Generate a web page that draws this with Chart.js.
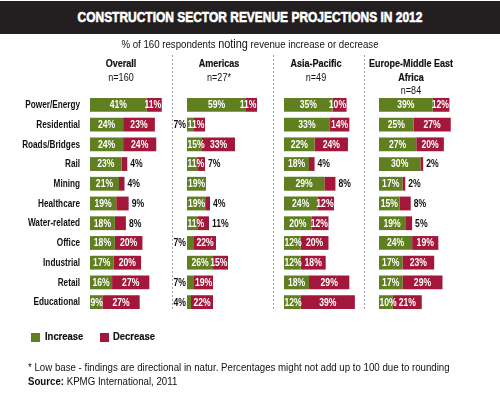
<!DOCTYPE html>
<html>
<head>
<meta charset="utf-8">
<script src="https://cdn.jsdelivr.net/npm/chart.js@4.4.0/dist/chart.umd.min.js"></script>
<style>
  body { margin: 0; background: #fff; }
  #wrap { position: relative; width: 500px; height: 400px; overflow: hidden;
          font-family: 'Liberation Sans', Arial, sans-serif; color: #111; }
  #chart { position: absolute; left: 0; top: 0; }
  .t { position: absolute; white-space: nowrap; }
  .nc { transform: scaleX(0.82); transform-origin: center top; }
  .nl { transform: scaleX(0.82); transform-origin: left top; }
  #titlebar { position: absolute; left: 0; top: 1px; width: 500px; height: 33px; background: #231f20; }
  #title { left: 0; width: 500px; top: 9px; text-align: center; color: #fff; font-weight: bold;
           font-size: 14.6px; -webkit-text-stroke: 0.6px #fff; }
  #sub { left: 0; width: 500px; top: 36px; text-align: center; font-size: 11.8px; }
  #sub span { font-size: 13.3px; }
  .hd { text-align: center; font-size: 11px; line-height: 13.5px; }
  .hd b { font-weight: bold; -webkit-text-stroke: 0.2px #111; }
  .leg { top: 330px; font-size: 11.5px; font-weight: bold; -webkit-text-stroke: 0.2px #111; }
  .sw { position: absolute; width: 9px; height: 9px; top: 333px; }
  #foot { left: 28px; top: 360px; font-size: 11.8px; line-height: 14px; }
</style>
</head>
<body>
<div id="wrap">
  <canvas id="chart" width="500" height="400"></canvas>
  <div id="titlebar"></div>
  <div class="t nc" id="title">CONSTRUCTION SECTOR REVENUE PROJECTIONS IN 2012</div>
  <div class="t nc" id="sub">% of 160 respondents <span>noting</span> revenue increase or decrease</div>
  <div class="t hd nc" style="left:71px;width:100px;top:57px"><b>Overall</b><br>n=160</div>
  <div class="t hd nc" style="left:169px;width:100px;top:57px"><b>Americas</b><br>n=27*</div>
  <div class="t hd nc" style="left:266px;width:100px;top:57px"><b>Asia-Pacific</b><br>n=49</div>
  <div class="t hd nc" style="left:351px;width:120px;top:57px"><b>Europe-Middle East<br>Africa</b><br>n=84</div>
  <div class="sw" style="left:31px;background:#5f7f20"></div>
  <div class="t leg nl" style="left:45px">Increase</div>
  <div class="sw" style="left:100px;background:#a3173a"></div>
  <div class="t leg nl" style="left:113px">Decrease</div>
  <div class="t nl" id="foot">* Low base - findings are directional in natur. Percentages might not add up to 100 due to rounding<br><b>Source:</b> KPMG International, 2011</div>
</div>
<script>
// --- DATA ---
const categories = ['Power/Energy', 'Residential', 'Roads/Bridges', 'Rail', 'Mining', 'Healthcare',
                    'Water-related', 'Office', 'Industrial', 'Retail', 'Educational'];
const overallInc  = [41, 24, 24, 23, 21, 19, 18, 18, 17, 16, 9];
const overallDec  = [11, 23, 24, 4, 4, 9, 8, 20, 20, 27, 27];
const americasInc = [59, 7, 15, 11, 19, 19, 11, 7, 26, 7, 4];
const americasDec = [11, 11, 33, 7, 0, 4, 11, 22, 15, 19, 22];
const asiaInc     = [35, 33, 22, 18, 29, 24, 20, 12, 12, 18, 12];
const asiaDec     = [10, 14, 24, 4, 8, 12, 12, 20, 18, 29, 39];
const emeaInc     = [39, 25, 27, 30, 17, 15, 19, 24, 17, 17, 10];
const emeaDec     = [12, 27, 20, 2, 2, 8, 5, 19, 23, 29, 21];

const GREEN = '#5f7f20';
const RED = '#a3173a';
const FONT = "'Liberation Sans', Arial, sans-serif";
const NARROW = 0.82; // squeeze Liberation Sans into an Arial Narrow look

// column layout: where each panel's bars start (px) and px per percent
const panels = [
    { id: 'x0', start: 90,  pxPer: 1.38, inc: overallInc,  dec: overallDec },
    { id: 'x1', start: 187, pxPer: 1.0,  inc: americasInc, dec: americasDec },
    { id: 'x2', start: 284, pxPer: 1.39, inc: asiaInc,     dec: asiaDec },
    { id: 'x3', start: 379, pxPer: 1.38, inc: emeaInc,     dec: emeaDec }
];
const separators = [172, 273, 364];
const W = 500;
const INC_OUTSIDE = 8;   // increase labels below this go left of the bar
const DEC_OUTSIDE = 10;  // decrease labels below this go right of the bar

const datasets = [];
const scales = {
    y: { type: 'category', labels: categories, stacked: true, display: false }
};
panels.forEach(p => {
    datasets.push({ label: 'Increase', data: p.inc, backgroundColor: GREEN, xAxisID: p.id, stack: 's', kind: 'inc' });
    datasets.push({ label: 'Decrease', data: p.dec, backgroundColor: RED, xAxisID: p.id, stack: 's', kind: 'dec' });
    scales[p.id] = { type: 'linear', stacked: true, display: false,
                     min: -p.start / p.pxPer, max: (W - p.start) / p.pxPer };
});

function narrowText(ctx, txt, x, y, align) {
    ctx.save();
    ctx.translate(x, y);
    ctx.scale(NARROW, 1);
    ctx.textAlign = align;
    ctx.fillText(txt, 0, 0);
    ctx.restore();
}

const decorPlugin = {
    id: 'decor',
    beforeDatasetsDraw(chart) {
        const ctx = chart.ctx;
        ctx.save();
        ctx.strokeStyle = '#a0a0a0';
        ctx.lineWidth = 1;
        ctx.setLineDash([2, 2]);
        separators.forEach(x => {
            ctx.beginPath();
            ctx.moveTo(x + 0.5, 55);
            ctx.lineTo(x + 0.5, 311);
            ctx.stroke();
        });
        ctx.restore();
    },
    afterDatasetsDraw(chart) {
        const ctx = chart.ctx;
        const yScale = chart.scales.y;
        ctx.save();
        ctx.textBaseline = 'middle';
        // category names
        ctx.font = 'bold 10px ' + FONT;
        ctx.fillStyle = '#111';
        categories.forEach((c, i) => narrowText(ctx, c, 80, yScale.getPixelForValue(i) + 0.5, 'right'));
        // value labels
        ctx.font = 'bold 10.5px ' + FONT;
        const segW = (bar) => Math.abs(bar.x - bar.base);
        chart.data.datasets.forEach((ds, di) => {
            const meta = chart.getDatasetMeta(di);
            const incDs = ds.kind === 'dec' ? chart.data.datasets[di - 1] : null;
            const incMeta = ds.kind === 'dec' ? chart.getDatasetMeta(di - 1) : null;
            meta.data.forEach((bar, i) => {
                const v = ds.data[i];
                if (!v) return;
                const txt = v + '%';
                const tw = ctx.measureText(txt).width * NARROW;
                const left = Math.min(bar.x, bar.base), right = Math.max(bar.x, bar.base);
                const y = bar.y + 0.5;
                const w = segW(bar);
                if (ds.kind === 'inc') {
                    if (v < INC_OUTSIDE) {
                        ctx.fillStyle = '#111';
                        narrowText(ctx, txt, left - 1, y, 'right');
                    } else {
                        ctx.fillStyle = '#fff';
                        if (w < tw + 1) narrowText(ctx, txt, left + 0.5, y, 'left');
                        else narrowText(ctx, txt, (left + right) / 2, y, 'center');
                    }
                } else {
                    // no room if the green label sits inside a short green segment
                    const tight = w < tw && incDs.data[i] >= INC_OUTSIDE && segW(incMeta.data[i]) < tw + 4;
                    if (v < DEC_OUTSIDE || tight) {
                        ctx.fillStyle = '#111';
                        narrowText(ctx, txt, right + 3, y, 'left');
                    } else {
                        ctx.fillStyle = '#fff';
                        if (w < tw + 1) narrowText(ctx, txt, right - 0.5, y, 'right');
                        else narrowText(ctx, txt, (left + right) / 2, y, 'center');
                    }
                }
            });
        });
        ctx.restore();
    }
};

new Chart(document.getElementById('chart'), {
    type: 'bar',
    data: { labels: categories, datasets: datasets },
    options: {
        indexAxis: 'y',
        responsive: false,
        animation: false,
        devicePixelRatio: 1,
        layout: { padding: { top: 95, bottom: 88, left: 0, right: 0 } },
        datasets: { bar: { categoryPercentage: 1, barPercentage: 0.7 } },
        plugins: { legend: { display: false }, tooltip: { enabled: false } },
        scales: scales
    },
    plugins: [decorPlugin]
});
</script>
</body>
</html>
